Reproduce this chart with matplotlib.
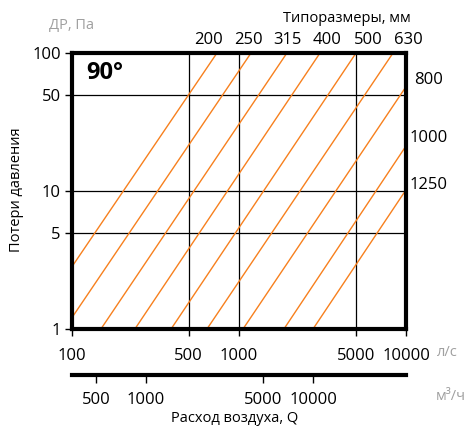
import numpy as np
import matplotlib.pyplot as plt

plt.rcParams['font.family'] = ['Open Sans', 'DejaVu Sans']

# duct sizes, mm
sizes = ['200', '250', '315', '400', '500', '630', '800', '1000', '1250']
# each line: start (Q, dP) and end (Q, dP), Q in l/s, dP in Pa
q_start = [100, 100, 149, 238, 392, 643, 1057, 1858, 2775]
p_start = [2.83, 1.21, 1, 1, 1, 1, 1, 1, 1]
q_end = [738, 1180, 1936, 3055, 5022, 8360, 10000, 10000, 10000]
p_end = [100, 100, 100, 100, 100, 100, 57, 21.2, 10.2]

x_ticks = [100, 500, 1000, 5000, 10000]
y_ticks = [1, 5, 10, 50, 100]
m3h_ticks = [500, 1000, 5000, 10000]

orange = '#f7801e'
gray = '#a0a0a0'
fs = 12

fig = plt.figure(figsize=(4.69, 4.26), dpi=100)
ax = fig.add_axes([72/469, 1-329/426, 334/469, 276/426])
ax.set_xscale('log')
ax.set_yscale('log')
ax.set_xlim(100, 10000)
ax.set_ylim(1, 100)

for xs, ys, xe, ye in zip(q_start, p_start, q_end, p_end):
    ax.plot([xs, xe], [ys, ye], color=orange, lw=1.0, solid_capstyle='butt')

for v in [500, 1000, 5000]:
    ax.axvline(v, color='black', lw=0.9, zorder=1)
for v in [5, 10, 50]:
    ax.axhline(v, color='black', lw=0.9, zorder=1)

ax.set_xticks(x_ticks)
ax.set_xticklabels([str(v) for v in x_ticks], fontsize=fs)
ax.set_yticks(y_ticks)
ax.set_yticklabels([str(v) for v in y_ticks], fontsize=fs)
ax.minorticks_off()
ax.tick_params(axis='x', length=5, width=1, pad=9, direction='out')
ax.tick_params(axis='y', length=5, width=1, pad=3, direction='out')
for s in ax.spines.values():
    s.set_linewidth(3)

fig.text(86/469, 1-61/426, '90°', fontsize=17, fontweight='bold',
         va='top', ha='left')

# size labels above and to the right
top_x = [208, 248, 287, 327, 368, 408]
for lab, px in zip(sizes[:6], top_x):
    fig.text(px/469, 1-40/426, lab, fontsize=fs, ha='center', va='center')
right_y = [80, 138, 185]
for lab, py in zip(sizes[6:], right_y):
    fig.text(429/469, 1-py/426, lab, fontsize=fs, ha='center', va='center')

fig.text(347/469, 1-19/426, 'Типоразмеры, мм', fontsize=10.5, ha='center', va='center')
fig.text(72/469, 1-25/426, 'ДР, Па', fontsize=10.5, ha='center', va='center', color=gray)
fig.text(17/469, 1-190/426, 'Потери давления', fontsize=10.5, ha='center',
         va='center', rotation=90)
fig.text(447/469, 1-352/426, 'л/с', fontsize=10.5, ha='center', va='center', color=gray)
fig.text(451/469, 1-397/426, 'м³/ч', fontsize=10.5, ha='center', va='center', color=gray)

# second flow axis in m3/h
ax2 = fig.add_axes([72/469, 1-375/426, 334/469, 0.0001])
ax2.set_xscale('log')
ax2.set_xlim(360, 36000)
ax2.set_yticks([])
for k in ['top', 'left', 'right']:
    ax2.spines[k].set_visible(False)
ax2.spines['bottom'].set_linewidth(3)
ax2.set_xticks(m3h_ticks)
ax2.set_xticklabels([str(v) for v in m3h_ticks], fontsize=fs)
ax2.minorticks_off()
ax2.tick_params(length=6, width=1, pad=6, direction='out')
ax2.patch.set_visible(False)
fig.text(235/469, 1-418/426, 'Расход воздуха, Q', fontsize=10.5, ha='center', va='center')

fig.savefig('out.png', dpi=100)
